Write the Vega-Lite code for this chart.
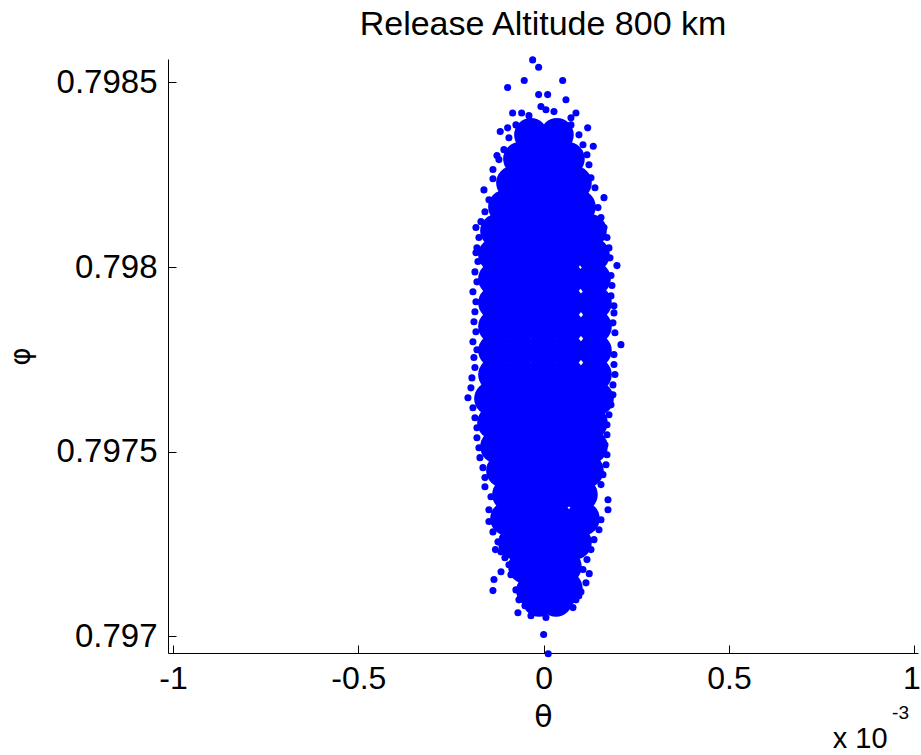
{
"$schema":"https://vega.github.io/schema/vega-lite/v6.json",
"autosize":{"type":"none"},
"padding":{"left":168,"top":59,"right":3,"bottom":102},
"width":750,"height":594,
"background":"white",
"config":{"view":{"stroke":null},"font":"Liberation Sans"},
"title":{"text":"Release Altitude 800 km","fontSize":34,"fontWeight":"normal","color":"#000000","anchor":"middle","offset":14,"font":"Liberation Sans"},
"datasets":{
"core":[
{"theta":-0.0343e-3,"phi":0.798358},{"theta":0.0359e-3,"phi":0.798358},
{"theta":-0.0640e-3,"phi":0.798293},{"theta":0.0008e-3,"phi":0.798293},{"theta":0.0656e-3,"phi":0.798293},
{"theta":-0.0829e-3,"phi":0.798228},{"theta":-0.0181e-3,"phi":0.798228},{"theta":0.0467e-3,"phi":0.798228},{"theta":0.0845e-3,"phi":0.798228},
{"theta":-0.1045e-3,"phi":0.798163},{"theta":-0.0397e-3,"phi":0.798163},{"theta":0.0251e-3,"phi":0.798163},{"theta":0.0953e-3,"phi":0.798163},
{"theta":-0.1260e-3,"phi":0.798098},{"theta":-0.0613e-3,"phi":0.798098},{"theta":0.0035e-3,"phi":0.798098},{"theta":0.0683e-3,"phi":0.798098},{"theta":0.1250e-3,"phi":0.798098},
{"theta":-0.1314e-3,"phi":0.798033},{"theta":-0.0667e-3,"phi":0.798033},{"theta":-0.0019e-3,"phi":0.798033},{"theta":0.0629e-3,"phi":0.798033},{"theta":0.1331e-3,"phi":0.798033},
{"theta":-0.1314e-3,"phi":0.797968},{"theta":-0.0667e-3,"phi":0.797968},{"theta":-0.0019e-3,"phi":0.797968},{"theta":0.0629e-3,"phi":0.797968},{"theta":0.1358e-3,"phi":0.797968},
{"theta":-0.1314e-3,"phi":0.797903},{"theta":-0.0667e-3,"phi":0.797903},{"theta":-0.0019e-3,"phi":0.797903},{"theta":0.0629e-3,"phi":0.797903},{"theta":0.1385e-3,"phi":0.797903},
{"theta":-0.1314e-3,"phi":0.797839},{"theta":-0.0667e-3,"phi":0.797839},{"theta":-0.0019e-3,"phi":0.797839},{"theta":0.0629e-3,"phi":0.797839},{"theta":0.1385e-3,"phi":0.797839},
{"theta":-0.1314e-3,"phi":0.797774},{"theta":-0.0667e-3,"phi":0.797774},{"theta":-0.0019e-3,"phi":0.797774},{"theta":0.0629e-3,"phi":0.797774},{"theta":0.1385e-3,"phi":0.797774},
{"theta":-0.1314e-3,"phi":0.797709},{"theta":-0.0667e-3,"phi":0.797709},{"theta":-0.0019e-3,"phi":0.797709},{"theta":0.0629e-3,"phi":0.797709},{"theta":0.1385e-3,"phi":0.797709},
{"theta":-0.1422e-3,"phi":0.797644},{"theta":-0.0775e-3,"phi":0.797644},{"theta":-0.0127e-3,"phi":0.797644},{"theta":0.0521e-3,"phi":0.797644},{"theta":0.1169e-3,"phi":0.797644},{"theta":0.1439e-3,"phi":0.797644},
{"theta":-0.1341e-3,"phi":0.797579},{"theta":-0.0694e-3,"phi":0.797579},{"theta":-0.0046e-3,"phi":0.797579},{"theta":0.0602e-3,"phi":0.797579},{"theta":0.1277e-3,"phi":0.797579},
{"theta":-0.1260e-3,"phi":0.797514},{"theta":-0.0613e-3,"phi":0.797514},{"theta":0.0035e-3,"phi":0.797514},{"theta":0.0683e-3,"phi":0.797514},{"theta":0.1277e-3,"phi":0.797514},
{"theta":-0.1099e-3,"phi":0.797449},{"theta":-0.0451e-3,"phi":0.797449},{"theta":0.0197e-3,"phi":0.797449},{"theta":0.0845e-3,"phi":0.797449},{"theta":0.1169e-3,"phi":0.797449},
{"theta":-0.0937e-3,"phi":0.797384},{"theta":-0.0289e-3,"phi":0.797384},{"theta":0.0359e-3,"phi":0.797384},{"theta":0.1007e-3,"phi":0.797384},
{"theta":-0.0991e-3,"phi":0.797319},{"theta":-0.0343e-3,"phi":0.797319},{"theta":0.0305e-3,"phi":0.797319},{"theta":0.1061e-3,"phi":0.797319},
{"theta":-0.0775e-3,"phi":0.797254},{"theta":-0.0127e-3,"phi":0.797254},{"theta":0.0521e-3,"phi":0.797254},{"theta":0.0845e-3,"phi":0.797254},
{"theta":-0.0505e-3,"phi":0.797189},{"theta":0.0089e-3,"phi":0.797189},{"theta":0.0575e-3,"phi":0.797189},
{"theta":-0.0289e-3,"phi":0.797124},{"theta":0.0251e-3,"phi":0.797124},{"theta":0.0600e-3,"phi":0.797130},
{"theta":-0.0127e-3,"phi":0.797099},{"theta":0.0332e-3,"phi":0.797099}
],
"scatter":[
{"theta":-0.0297e-3,"phi":0.798561},{"theta":-0.0135e-3,"phi":0.798541},{"theta":-0.0972e-3,"phi":0.798486},{"theta":-0.0524e-3,"phi":0.798505},{"theta":0.0513e-3,"phi":0.798505},
{"theta":-0.0135e-3,"phi":0.798467},{"theta":0.0108e-3,"phi":0.798467},{"theta":0.0602e-3,"phi":0.798453},{"theta":-0.0073e-3,"phi":0.798435},{"theta":-0.0837e-3,"phi":0.798417},
{"theta":-0.0594e-3,"phi":0.798417},{"theta":0.0872e-3,"phi":0.798417},{"theta":0.0737e-3,"phi":0.798404},{"theta":-0.1171e-3,"phi":0.798367},{"theta":-0.0972e-3,"phi":0.798377},
{"theta":0.1188e-3,"phi":0.798377},{"theta":0.1339e-3,"phi":0.798327},{"theta":0.0278e-3,"phi":0.798421},{"theta":-0.0397e-3,"phi":0.798410},{"theta":0.0062e-3,"phi":0.798426},
{"theta":-0.0748e-3,"phi":0.798385},{"theta":-0.0937e-3,"phi":0.798350},{"theta":-0.1072e-3,"phi":0.798318},{"theta":-0.1207e-3,"phi":0.798291},{"theta":-0.1260e-3,"phi":0.798302},
{"theta":-0.1368e-3,"phi":0.798264},{"theta":-0.1368e-3,"phi":0.798239},{"theta":-0.1611e-3,"phi":0.798209},{"theta":-0.1476e-3,"phi":0.798182},{"theta":-0.1584e-3,"phi":0.798150},
{"theta":-0.1692e-3,"phi":0.798123},{"theta":-0.1827e-3,"phi":0.798107},{"theta":-0.1746e-3,"phi":0.798080},{"theta":-0.1800e-3,"phi":0.798052},{"theta":-0.1827e-3,"phi":0.798039},
{"theta":-0.1773e-3,"phi":0.798015},{"theta":-0.1854e-3,"phi":0.797987},{"theta":-0.1800e-3,"phi":0.797960},{"theta":-0.1908e-3,"phi":0.797933},{"theta":-0.1827e-3,"phi":0.797906},
{"theta":-0.1854e-3,"phi":0.797879},{"theta":-0.1881e-3,"phi":0.797852},{"theta":-0.1827e-3,"phi":0.797825},{"theta":-0.1908e-3,"phi":0.797798},{"theta":-0.1800e-3,"phi":0.797776},
{"theta":-0.1881e-3,"phi":0.797755},{"theta":-0.1854e-3,"phi":0.797728},{"theta":-0.1935e-3,"phi":0.797700},{"theta":-0.1962e-3,"phi":0.797673},{"theta":-0.2043e-3,"phi":0.797646},
{"theta":-0.1908e-3,"phi":0.797619},{"theta":-0.1854e-3,"phi":0.797592},{"theta":-0.1800e-3,"phi":0.797565},{"theta":-0.1800e-3,"phi":0.797538},{"theta":-0.1746e-3,"phi":0.797511},
{"theta":-0.1719e-3,"phi":0.797484},{"theta":-0.1638e-3,"phi":0.797457},{"theta":-0.1584e-3,"phi":0.797430},{"theta":-0.1584e-3,"phi":0.797405},{"theta":-0.1422e-3,"phi":0.797378},
{"theta":-0.1476e-3,"phi":0.797343},{"theta":-0.1476e-3,"phi":0.797311},{"theta":-0.1368e-3,"phi":0.797283},{"theta":-0.1233e-3,"phi":0.797256},{"theta":-0.1153e-3,"phi":0.797229},
{"theta":-0.1045e-3,"phi":0.797213},{"theta":-0.0937e-3,"phi":0.797194},{"theta":-0.0883e-3,"phi":0.797167},{"theta":-0.1341e-3,"phi":0.797154},{"theta":-0.1368e-3,"phi":0.797124},
{"theta":-0.0748e-3,"phi":0.797126},{"theta":-0.0667e-3,"phi":0.797099},{"theta":-0.0694e-3,"phi":0.797064},{"theta":-0.0505e-3,"phi":0.797083},
{"theta":0.0737e-3,"phi":0.798385},{"theta":0.0953e-3,"phi":0.798358},{"theta":0.1061e-3,"phi":0.798331},{"theta":0.1169e-3,"phi":0.798304},{"theta":0.1223e-3,"phi":0.798277},
{"theta":0.1277e-3,"phi":0.798242},{"theta":0.1385e-3,"phi":0.798215},{"theta":0.1628e-3,"phi":0.798188},{"theta":0.1466e-3,"phi":0.798161},{"theta":0.1547e-3,"phi":0.798134},
{"theta":0.1628e-3,"phi":0.798107},{"theta":0.1709e-3,"phi":0.798080},{"theta":0.1763e-3,"phi":0.798052},{"theta":0.1790e-3,"phi":0.798025},{"theta":0.1978e-3,"phi":0.798004},
{"theta":0.1817e-3,"phi":0.797977},{"theta":0.1843e-3,"phi":0.797950},{"theta":0.1817e-3,"phi":0.797922},{"theta":0.1897e-3,"phi":0.797895},{"theta":0.1897e-3,"phi":0.797876},
{"theta":0.1870e-3,"phi":0.797849},{"theta":0.1924e-3,"phi":0.797822},{"theta":0.2086e-3,"phi":0.797790},{"theta":0.1897e-3,"phi":0.797763},{"theta":0.1897e-3,"phi":0.797736},
{"theta":0.1924e-3,"phi":0.797709},{"theta":0.1870e-3,"phi":0.797681},{"theta":0.1870e-3,"phi":0.797654},{"theta":0.1817e-3,"phi":0.797627},{"theta":0.1763e-3,"phi":0.797600},
{"theta":0.1709e-3,"phi":0.797573},{"theta":0.1709e-3,"phi":0.797546},{"theta":0.1655e-3,"phi":0.797519},{"theta":0.1709e-3,"phi":0.797492},{"theta":0.1682e-3,"phi":0.797465},
{"theta":0.1601e-3,"phi":0.797438},{"theta":0.1547e-3,"phi":0.797411},{"theta":0.1736e-3,"phi":0.797370},{"theta":0.1736e-3,"phi":0.797343},{"theta":0.1547e-3,"phi":0.797316},
{"theta":0.1493e-3,"phi":0.797289},{"theta":0.1358e-3,"phi":0.797262},{"theta":0.1277e-3,"phi":0.797235},{"theta":0.1169e-3,"phi":0.797208},{"theta":0.1061e-3,"phi":0.797181},
{"theta":0.1142e-3,"phi":0.797145},{"theta":0.1007e-3,"phi":0.797121},{"theta":0.0872e-3,"phi":0.797099},{"theta":0.0791e-3,"phi":0.797078},{"theta":0.0332e-3,"phi":0.797067},
{"theta":0.0062e-3,"phi":0.797051},{"theta":-0.0343e-3,"phi":0.797056},{"theta":-0.0157e-3,"phi":0.797081},{"theta":0.0197e-3,"phi":0.797094},
{"theta":-0.1300e-3,"phi":0.797235},{"theta":-0.1150e-3,"phi":0.797175},{"theta":0.1230e-3,"phi":0.797170},{"theta":0.0950e-3,"phi":0.797110},
{"theta":0.0000e-3,"phi":0.797005},{"theta":0.0124e-3,"phi":0.796953}
],
"note":[{"a":"x 10","b":"-3"}]
},
"layer":[
{"data":{"name":"core"},"mark":{"type":"circle","size":1130,"color":"#0000ff","fill":"#0000ff","opacity":1,"fillOpacity":1,"strokeWidth":0},
 "encoding":{
  "x":{"field":"theta","type":"quantitative","scale":{"domain":[-1.0135e-3,1.01e-3],"nice":false,"zero":false},
   "axis":{"values":[-0.001,-0.0005,0,0.0005,0.001],"labelExpr":"'' + round(datum.value*10000)/10","title":"θ","grid":false,
    "domainColor":"#000000","tickColor":"#000000","tickSize":-8,"labelPadding":18,"labelFontSize":32,"labelColor":"#000000","labelFont":"Liberation Sans",
    "labelOffset":{"condition":{"test":"datum.value > 0.0009","value":-3},"value":0},
    "titleFontSize":30,"titleFontWeight":"normal","titleColor":"#000000","titleFont":"DejaVu Sans","titlePadding":8,"labelFlush":false}},
  "y":{"field":"phi","type":"quantitative","scale":{"domain":[0.7969551,0.7985634],"nice":false,"zero":false},
   "axis":{"values":[0.797,0.7975,0.798,0.7985],"format":"~g","title":"φ","grid":false,
    "domainColor":"#000000","tickColor":"#000000","tickSize":-8,"labelPadding":19,"labelFontSize":33,"labelColor":"#000000","labelFont":"Liberation Sans",
    "titleFontSize":28,"titleFontWeight":"normal","titleColor":"#000000","titleFont":"DejaVu Sans","titlePadding":21,"labelFlush":false}}
 }},
{"data":{"name":"scatter"},"mark":{"type":"circle","size":50,"color":"#0000ff","fill":"#0000ff","opacity":1,"fillOpacity":1,"strokeWidth":0},
 "encoding":{"x":{"field":"theta","type":"quantitative"},"y":{"field":"phi","type":"quantitative"}}},
{"data":{"name":"note"},"mark":{"type":"text","align":"left","baseline":"alphabetic","fontSize":29,"dy":95,"color":"#000000","font":"Liberation Sans"},
 "encoding":{"x":{"datum":0.00078},"y":{"datum":0.7969551},"text":{"field":"a"}}},
{"data":{"name":"note"},"mark":{"type":"text","align":"left","baseline":"alphabetic","fontSize":19,"dy":66,"color":"#000000","font":"Liberation Sans"},
 "encoding":{"x":{"datum":0.00094},"y":{"datum":0.7969551},"text":{"field":"b"}}}
]
}
